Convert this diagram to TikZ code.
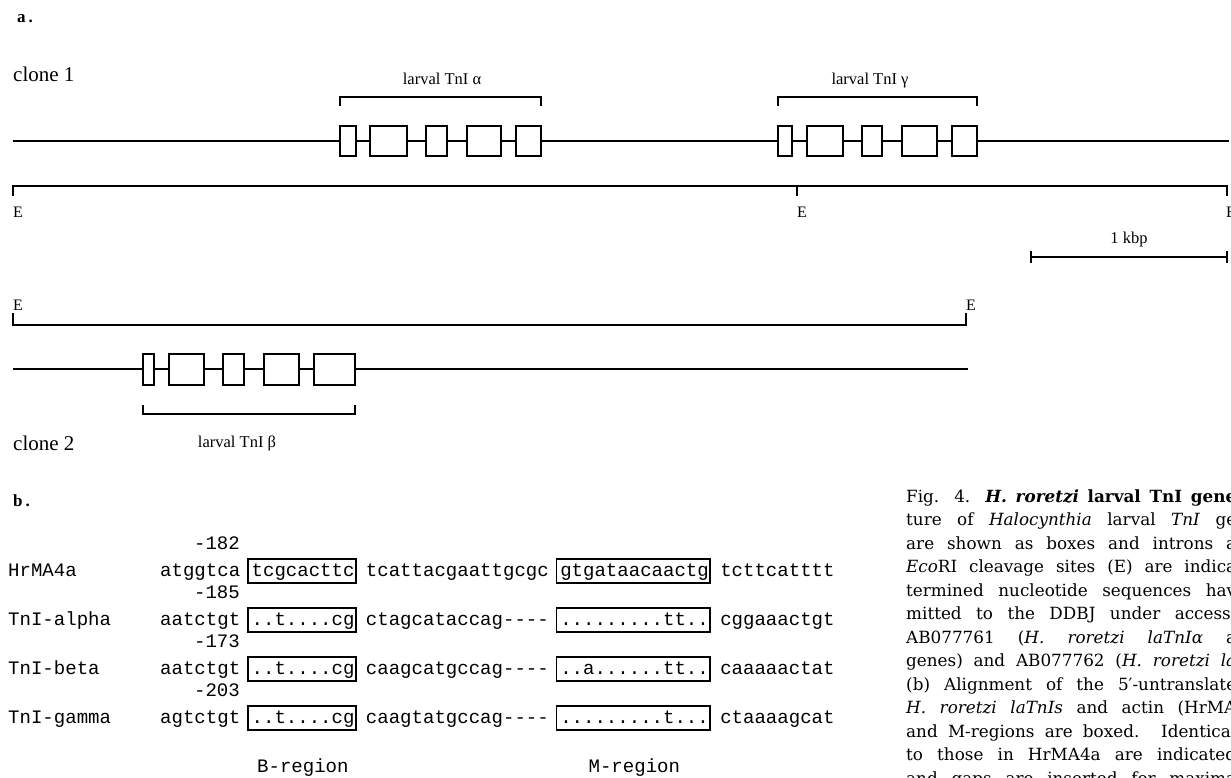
\documentclass[tikz,border=0pt]{standalone}
\usepackage{fontspec}
\setmainfont{Liberation Serif}
\newfontfamily\seqfont{Liberation Mono}
\newfontfamily\capfont{DejaVu Serif}
\newcommand\arow[9]{%
 \node[mono,anchor=base west] (#1l) at (8,#2) {#3};
 \node[mono,anchor=base east] (#1n) at ({160+7*11.43},{#2-27}) {#4};
 \node[mono,anchor=base west] (#1a) at (160,#2) {#5};
 \node[mono,anchor=base west] (#1b) at ({160+8*11.43},#2) {#6};
 \draw[seqbox] ({160+8*11.43-3.5},{#2-17}) rectangle ({160+17*11.43+1.5},{#2+7});
 \node[mono,anchor=base west] (#1c) at ({160+18*11.43},#2) {#7};
 \node[mono,anchor=base west] (#1d) at ({160+35*11.43},#2) {#8};
 \draw[seqbox] ({160+35*11.43-3.5},{#2-17}) rectangle ({160+48*11.43+1.5},{#2+7});
 \node[mono,anchor=base west] (#1e) at ({160+49*11.43},#2) {#9};
}
\newcommand\capline[3]{\node[captext] (#1) at (906,{502+23.5*#2}) {\makebox[330pt][s]{#3}};}
\begin{document}
\begin{tikzpicture}[x=1pt,y=-1pt,
  lbl/.style={inner sep=0pt, font=\fontsize{16.5}{19}\selectfont},
  clonelbl/.style={inner sep=0pt, anchor=base west, font=\fontsize{21}{24}\selectfont},
  elab/.style={inner sep=0pt, anchor=base west, font=\fontsize{16}{19}\selectfont},
  gene/.style={line width=1.6pt},
  exon/.style={draw, fill=white, line width=1.8pt},
  brk/.style={line width=1.8pt},
  mono/.style={inner sep=0pt, font=\seqfont\fontsize{19.05}{23}\selectfont},
  seqbox/.style={draw, line width=1.4pt},
  captext/.style={inner sep=0pt, anchor=base west, font=\capfont\fontsize{16.8}{20}\selectfont},
  panel/.style={inner sep=0pt, anchor=base west, font=\bfseries\fontsize{17}{20}\selectfont}]
\useasboundingbox (0,0) rectangle (1231,778);
\fill[white] (0,0) rectangle (1231,778);

% ---- panel a
\node[panel] (pa) at (17,23) {a\hspace{3pt}.};
\node[clonelbl] (c1) at (13,82) {clone 1};
\node[lbl, anchor=base] (la) at (442,85) {larval TnI α};
\node[lbl, anchor=base] (lg) at (870,85) {larval TnI γ};

\draw[brk] (340,106) -- (340,97) -- (541,97) -- (541,106);
\draw[brk] (778,106) -- (778,97) -- (977,97) -- (977,106);

\draw[gene] (13,141) -- (1229,141);
\foreach \a/\b in {340/356,370/407,426/447,467/501,516/541,778/792,807/843,862/882,902/937,952/977}
  \draw[exon] (\a,126) rectangle (\b,156);

\draw[brk] (13,196) -- (13,186) -- (1227,186) -- (1227,196);
\draw[brk] (797,186) -- (797,196);
\node[elab] (e1) at (13,218) {E};
\node[elab] (e2) at (797,218) {E};
\node[elab] (e3) at (1226,218) {E};

\draw[brk] (1031,251) -- (1031,263);
\draw[brk] (1227,251) -- (1227,263);
\draw[brk] (1031,257) -- (1227,257);
\node[lbl, anchor=base] (kbp) at (1129,243) {1 kbp};

\node[elab] (e4) at (13,310) {E};
\node[elab] (e5) at (966,310) {E};
\draw[brk] (13,313) -- (13,325) -- (966,325) -- (966,313);

\draw[gene] (13,369) -- (968,369);
\foreach \a/\b in {143/154,169/204,223/244,264/299,314/355}
  \draw[exon] (\a,354) rectangle (\b,385);
\draw[brk] (143,405) -- (143,414) -- (355,414) -- (355,405);
\node[clonelbl] (c2) at (13,450) {clone 2};
\node[lbl, anchor=base] (lb) at (237,447) {larval TnI β};

% ---- panel b
\node[panel] (pb) at (13,506) {b\hspace{3pt}.};
\arow{r1}{576}{HrMA4a}{-182}{atggtca}{tcgcacttc}{tcattacgaattgcgc}{gtgataacaactg}{tcttcatttt}
\arow{r2}{625}{TnI-alpha}{-185}{aatctgt}{..t....cg}{ctagcataccag-{}-{}-{}-}{.........tt..}{cggaaactgt}
\arow{r3}{674}{TnI-beta}{-173}{aatctgt}{..t....cg}{caagcatgccag-{}-{}-{}-}{..a......tt..}{caaaaactat}
\arow{r4}{723}{TnI-gamma}{-203}{agtctgt}{..t....cg}{caagtatgccag-{}-{}-{}-}{.........t...}{ctaaaagcat}
\node[mono,anchor=base] (breg) at ({160+12.5*11.43},772) {B-region};
\node[mono,anchor=base] (mreg) at ({160+41.5*11.43},772) {M-region};

% ---- caption
\capline{k1}{0}{Fig. 4. \textbf{\textit{H. roretzi} larval TnI gene}}
\capline{k2}{1}{ture of \textit{Halocynthia} larval \textit{TnI} ge}
\capline{k3}{2}{are shown as boxes and introns a}
\capline{k4}{3}{\textit{Eco}RI cleavage sites (E) are indica}
\capline{k5}{4}{termined nucleotide sequences hav}
\capline{k6}{5}{mitted to the DDBJ under accessi}
\capline{k7}{6}{AB077761 (\textit{H. roretzi laTnIα} a}
\capline{k8}{7}{genes) and AB077762 (\textit{H. roretzi la}}
\capline{k9}{8}{(b) Alignment of the 5′-untranslate}
\capline{k10}{9}{\textit{H. roretzi laTnIs} and actin (HrMA}
\capline{k11}{10}{and M-regions are boxed. Identical}
\capline{k12}{11}{to those in HrMA4a are indicated}
\capline{k13}{12}{and gaps are inserted for maxima}
\end{tikzpicture}
\end{document}
